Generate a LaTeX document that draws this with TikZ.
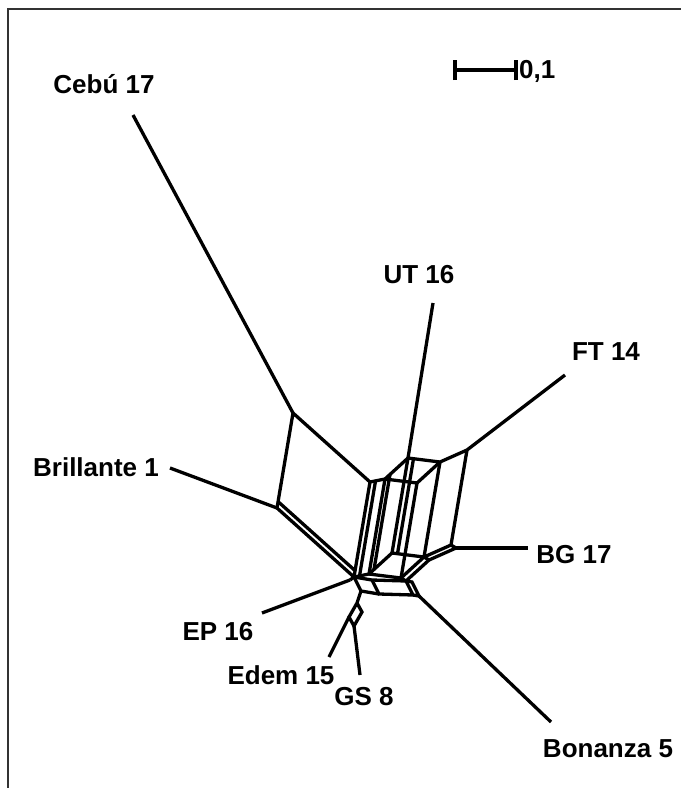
\documentclass[tikz,border=0pt]{standalone}
\usepackage{fontspec}
\setmainfont{Liberation Sans}
\begin{document}
\begin{tikzpicture}[x=1pt, y=-1pt, every node/.style={font=\bfseries\fontsize{26}{31}\selectfont, inner sep=0pt}, net/.style={line width=3.3pt}]
  \useasboundingbox (0,0) rectangle (681,788);
  \draw[line width=1.5pt, black!80] (8,788) -- (8,9) -- (681,9);
  \coordinate (cebuT) at (133,115);
  \coordinate (utT) at (433,303);
  \coordinate (ftT) at (565,375);
  \coordinate (bgT) at (528,548);
  \coordinate (bonT) at (551,722);
  \coordinate (gsT) at (360,675);
  \coordinate (edemT) at (329,657);
  \coordinate (epT) at (262,613);
  \coordinate (briT) at (170,468);
  \coordinate (ce) at (293,413);
  \coordinate (br) at (277,508);
  \coordinate (brw) at (278.5,502);
  \coordinate (t0) at (370,482);
  \coordinate (t0a) at (375.5,481);
  \coordinate (t1) at (385,479);
  \coordinate (t1a) at (390,474.4);
  \coordinate (t2) at (408,458);
  \coordinate (t2a) at (413.5,458.7);
  \coordinate (t3) at (440,462);
  \coordinate (t4) at (467,450);
  \coordinate (tx) at (417,483);
  \coordinate (b0) at (354,577);
  \coordinate (b0w) at (355.5,571);
  \coordinate (b0a) at (359.5,576);
  \coordinate (b1) at (369,574);
  \coordinate (b1a) at (374,569.4);
  \coordinate (b2) at (392,553);
  \coordinate (b2a) at (397.5,553.7);
  \coordinate (b3) at (424,557);
  \coordinate (b4) at (451,545);
  \coordinate (bx) at (401,578);
  \coordinate (bxo) at (406,581);
  \coordinate (b3o) at (429,560);
  \coordinate (b4o) at (456,548);
  \coordinate (ep) at (350,580);
  \coordinate (r1) at (372,580);
  \coordinate (r2) at (379,594);
  \coordinate (r3) at (413,595);
  \coordinate (r4b) at (412,582);
  \coordinate (bon) at (419,596);
  \coordinate (hs) at (361,591);
  \coordinate (k) at (357,603);
  \coordinate (kr) at (362,612);
  \coordinate (ed) at (349,617);
  \coordinate (gs) at (354,626);
  \draw[net] (ce) -- (cebuT);
  \draw[net] (br) -- (briT);
  \draw[net] (t2) -- (utT);
  \draw[net] (t4) -- (ftT);
  \draw[net] (b4o) -- (bgT);
  \draw[net] (bon) -- (bonT);
  \draw[net] (gs) -- (gsT);
  \draw[net] (ed) -- (edemT);
  \draw[net] (ep) -- (epT);
  \draw[net] (br) -- (ce) -- (t0);
  \draw[net] (br) -- (b0);
  \draw[net] (brw) -- (b0w);
  \draw[net] (t0) -- (t1) -- (t2) -- (t3) -- (t4);
  \draw[net] (t1) -- (tx) -- (t3);
  \draw[net] (b0) -- (b1) -- (b2) -- (b3) -- (b4);
  \draw[net] (b1) -- (bx) -- (b3);
  \draw[net] (t0) -- (b0);
  \draw[net] (t0a) -- (b0a);
  \draw[net] (t1) -- (b1);
  \draw[net] (t1a) -- (b1a);
  \draw[net] (t2) -- (b2);
  \draw[net] (t2a) -- (b2a);
  \draw[net] (tx) -- (bx);
  \draw[net] (t3) -- (b3);
  \draw[net] (t4) -- (b4);
  \draw[net] (bx) -- (bxo) -- (b3o) -- (b4o) -- (b4);
  \draw[net] (b3) -- (b3o);
  \draw[net] (ep) -- (b0) -- (r1) -- (bxo);
  \draw[net] (r1) -- (r2) -- (r3) -- (bxo);
  \draw[net] (bxo) -- (r4b) -- (bon) -- (r3);
  \draw[net] (b0) -- (hs) -- (r2);
  \draw[net] (hs) -- (k) -- (ed) -- (gs) -- (kr) -- (k);
  \node (cebuL) at (104,84) {Cebú 17};
  \node (utL) at (419,275) {UT 16};
  \node (ftL) at (606,352) {FT 14};
  \node (briL) at (96,467) {Brillante 1};
  \node (bgL) at (574,555) {BG 17};
  \node (epL) at (218,632) {EP 16};
  \node (edemL) at (281,675) {Edem 15};
  \node (gsL) at (364,697) {GS 8};
  \node (bonL) at (608,749) {Bonanza 5};
  \coordinate (sbL) at (455,70);
  \coordinate (sbR) at (516,70);
  \draw[net] (sbL) -- (sbR);
  \draw[net] ([yshift=-10pt]sbL) -- ([yshift=10pt]sbL);
  \draw[net] ([yshift=-10pt]sbR) -- ([yshift=10pt]sbR);
  \node[anchor=west] (sbT) at (519,71) {0,1};
\end{tikzpicture}
\end{document}
